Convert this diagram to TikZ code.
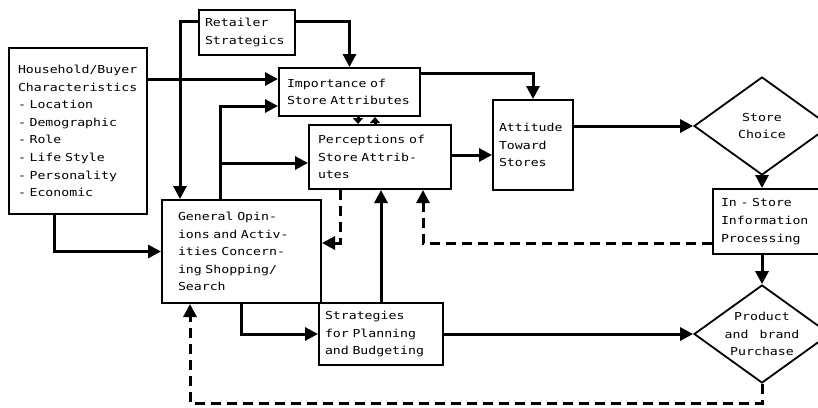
\documentclass[tikz,border=0pt]{standalone}
\usepackage{fontspec}
\setmonofont{DejaVu Sans Mono}[FakeStretch=1.2, WordSpace=1.4]
\usepackage{tikz}
\usetikzlibrary{arrows.meta,positioning,shapes.geometric}

\begin{document}
\begin{tikzpicture}[
  x=1pt, y=-1pt,
  every node/.style={font=\ttfamily\fontsize{11}{17.6}\selectfont},
  box/.style={draw, line width=2pt, anchor=north west, align=left, inner xsep=7pt, inner ysep=0pt},
  choice/.style={draw, line width=1.8pt, diamond, aspect=1.4, minimum width=136pt, minimum height=98pt, inner sep=-10pt, align=center},
  arr/.style={line width=3pt, -{Triangle[length=13pt,width=13pt]}},
  smallarr/.style={line width=3pt, -{Triangle[length=6pt,width=10pt]}},
  darr/.style={arr, dash pattern=on 10pt off 6pt}
]
\useasboundingbox (0,0) rectangle (818,407);

% boxes
\node[box, minimum width=96pt, minimum height=45pt, text width=84pt, inner xsep=6pt] (retail) at (198,9) {Retailer\\Strategics};
\node[box, minimum width=138pt, minimum height=166pt, text width=120pt, inner xsep=9pt] (house) at (8,47)
  {Household/Buyer\\Characteristics\\- Location\\- Demographic\\- Role\\- Life Style\\- Personality\\- Economic};
\node[box, minimum width=141pt, minimum height=48pt, text width=125pt, inner xsep=8pt] (imp) at (278,67) {Importance of\\Store Attributes};
\node[box, minimum width=142pt, minimum height=64pt, text width=124pt, inner xsep=9pt] (perc) at (308,124) {Perceptions of\\Store Attrib-\\utes};
\node[box, minimum width=80pt, minimum height=90pt, text width=68pt, inner xsep=6pt] (att) at (492,99) {Attitude\\Toward\\Stores};
\node[box, minimum width=143pt, minimum height=103pt, text width=127pt, inner xsep=16pt] (gen) at (161,199)
  {General Opin-\\ions and Activ-\\ities Concern-\\ing Shopping/\\Search};
\node[box, minimum width=124pt, minimum height=62pt, text width=112pt, inner xsep=6pt] (strat) at (318,302) {Strategies\\for Planning\\and Budgeting};
\node[box, minimum width=112pt, minimum height=65pt, text width=98pt, inner xsep=8pt] (instore) at (712,188) {In - Store\\Information\\Processing};
\node[choice] (store) at (762,126) {Store\\Choice};
\node[choice] (prod) at (762,334) {Product\\and brand\\Purchase};

% solid flows
\draw[arr] ([yshift=11pt]retail.east) -| (imp);
\draw[arr] ([yshift=11pt]retail.west) -| ([xshift=19pt]gen.north west);
\draw[arr] (house.east |- 0,79) -- (imp.west |- 0,79);
\draw[arr] (house.south -| 54,0) |- (gen);
\draw[arr] (gen.north -| 220,0) |- (imp.west |- 0,106);
\draw[arr] (gen.north -| 220,0) |- (perc.west |- 0,163);
\draw[smallarr] (imp.south -| 358,0) -- (perc.north -| 358,0);
\draw[smallarr] (perc.north -| 375,0) -- (imp.south -| 375,0);
\draw[arr] (imp.east |- 0,73) -| (att);
\draw[arr] (perc.east |- 0,155) -- (att.west |- 0,155);
\draw[arr] (att.east |- store.west) -- (store.west);
\draw[arr] (store.south) -- (instore.north -| store.south);
\draw[arr] (instore.south -| prod.north) -- (prod.north);
\draw[arr] (strat.north) -- (strat.north |- perc.south);
\draw[arr] (gen.south) |- (strat.west);
\draw[arr] (strat.east) -- (strat.east -| prod.west);

% feedback
\draw[darr] (instore.west |- 0,243) -| (perc.south -| 423,0);
\draw[darr] (perc.south -| 340,0) |- (gen.east |- 0,243);
\draw[darr] (prod.south) -- (prod.south |- 0,403) -| (gen.south -| 190,0);
\end{tikzpicture}
\end{document}
